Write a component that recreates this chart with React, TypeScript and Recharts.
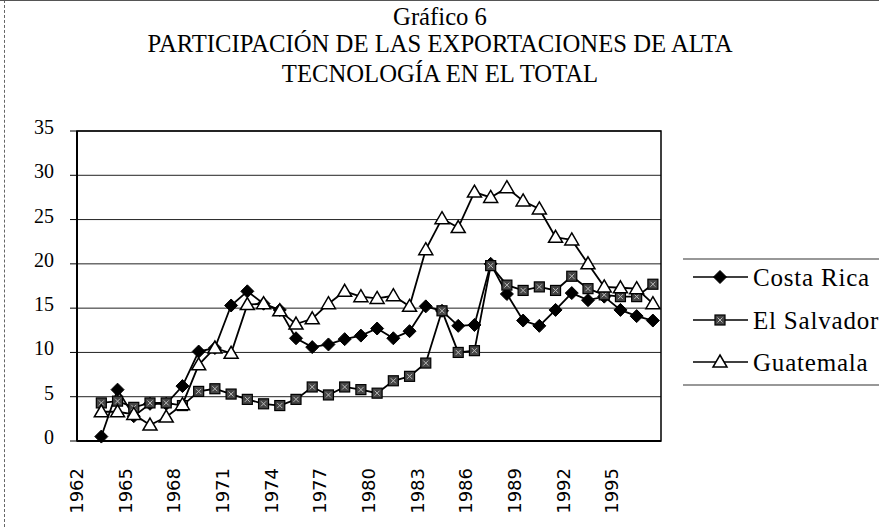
import { LineChart, Line, XAxis, YAxis, CartesianGrid, ReferenceArea } from "recharts";

const YEARS = [
  1963, 1964, 1965, 1966, 1967, 1968, 1969, 1970, 1971, 1972, 1973, 1974,
  1975, 1976, 1977, 1978, 1979, 1980, 1981, 1982, 1983, 1984, 1985, 1986,
  1987, 1988, 1989, 1990, 1991, 1992, 1993, 1994, 1995, 1996, 1997,
];

const COSTA_RICA = [
  0.5, 5.8, 2.8, 4.2, 4.2, 6.2, 10.1, 10.5, 15.3, 16.9, 15.5, 14.8,
  11.6, 10.6, 10.9, 11.5, 11.9, 12.7, 11.6, 12.4, 15.2, 14.7, 13.0, 13.1,
  20.0, 16.6, 13.6, 13.0, 14.8, 16.7, 15.9, 16.3, 14.8, 14.1, 13.6,
];

const EL_SALVADOR = [
  4.3, 4.5, 3.8, 4.3, 4.3, 4.0, 5.6, 5.9, 5.3, 4.7, 4.2, 4.0,
  4.7, 6.1, 5.2, 6.1, 5.8, 5.4, 6.8, 7.3, 8.8, 14.7, 10.0, 10.2,
  19.8, 17.6, 17.0, 17.4, 17.0, 18.6, 17.2, 16.5, 16.3, 16.3, 17.7,
];

const GUATEMALA = [
  3.3, 3.3, 3.0, 1.8, 2.7, 4.1, 8.6, 10.5, 9.9, 15.4, 15.5, 14.7,
  13.2, 13.8, 15.5, 16.9, 16.3, 16.1, 16.4, 15.2, 21.6, 25.1, 24.1, 28.1,
  27.5, 28.6, 27.1, 26.2, 23.0, 22.7, 20.0, 17.4, 17.3, 17.2, 15.5,
];

const X_TICKS = [1962, 1965, 1968, 1971, 1974, 1977, 1980, 1983, 1986, 1989, 1992, 1995];
const Y_TICKS = [0, 5, 10, 15, 20, 25, 30, 35];

const TITLE_LINES = [
  "Gráfico 6",
  "PARTICIPACIÓN DE LAS EXPORTACIONES DE ALTA",
  "TECNOLOGÍA EN EL TOTAL",
];
const TITLE_TOPS = [4, 31, 61];

const SERIES_NAMES = ["Costa Rica", "El Salvador", "Guatemala"];

const data = YEARS.map((year, i) => ({
  year,
  costaRica: COSTA_RICA[i],
  elSalvador: EL_SALVADOR[i],
  guatemala: GUATEMALA[i],
}));

const SERIF = "'Liberation Serif', 'Times New Roman', serif";

function Diamond({ cx, cy }: { cx: number; cy: number }) {
  const r = 6.5;
  return (
    <path
      d={`M${cx},${cy - r} L${cx + r},${cy} L${cx},${cy + r} L${cx - r},${cy} Z`}
      fill="#000"
      stroke="#000"
    />
  );
}

function Square({ cx, cy }: { cx: number; cy: number }) {
  const h = 5;
  return (
    <g>
      <rect x={cx - h} y={cy - h} width={h * 2} height={h * 2} fill="#444" stroke="#000" strokeWidth={1.2} />
      <path
        d={`M${cx - 2.5},${cy - 2.5} L${cx + 2.5},${cy + 2.5} M${cx + 2.5},${cy - 2.5} L${cx - 2.5},${cy + 2.5}`}
        stroke="#bbb"
        strokeWidth={1}
      />
    </g>
  );
}

function Triangle({ cx, cy }: { cx: number; cy: number }) {
  return (
    <path
      d={`M${cx},${cy - 7} L${cx + 7},${cy + 5} L${cx - 7},${cy + 5} Z`}
      fill="#fff"
      stroke="#000"
      strokeWidth={1.5}
    />
  );
}

const MARKERS = [Diamond, Square, Triangle];

function makeDot(Marker: typeof Diamond) {
  return (props: any) => {
    const { cx, cy, index } = props;
    if (cx == null || cy == null) return <g key={index} />;
    return (
      <g key={index}>
        <Marker cx={cx} cy={cy} />
      </g>
    );
  };
}

function XTick({ x, y, payload }: any) {
  return (
    <g transform={`translate(${x - 2},${y + 19}) rotate(-90)`}>
      <text textAnchor="end" fontFamily="'DejaVu Sans', sans-serif" fontSize={18} fill="#000">
        {payload.value}
      </text>
    </g>
  );
}

function YTick({ x, y, payload }: any) {
  return (
    <text x={x} y={y - 4} textAnchor="end" dominantBaseline="central" fontFamily={SERIF} fontSize={20} fill="#000">
      {payload.value}
    </text>
  );
}

function LegendBox() {
  const rows = [18, 61, 103];
  return (
    <svg width={196} height={128} style={{ position: "absolute", left: 683, top: 258 }}>
      <line x1={0} y1={1} x2={196} y2={1} stroke="#333" strokeWidth={1.2} />
      <line x1={0} y1={127} x2={196} y2={127} stroke="#333" strokeWidth={1.2} />
      {SERIES_NAMES.map((name, i) => {
        const Marker = MARKERS[i];
        const cy = rows[i] + 1;
        return (
          <g key={name}>
            <line x1={10} y1={cy} x2={65} y2={cy} stroke="#000" strokeWidth={1.5} />
            <Marker cx={37} cy={cy} />
            <text
              x={70}
              y={cy}
              dominantBaseline="central"
              fontFamily={SERIF}
              fontSize={25}
              letterSpacing={0.8}
              fill="#000"
            >
              {name}
            </text>
          </g>
        );
      })}
    </svg>
  );
}

export default function App() {
  const keys = ["costaRica", "elSalvador", "guatemala"];
  return (
    <div style={{ position: "absolute", left: 0, top: 0, width: 879, height: 527, background: "#fff" }}>
      <div style={{ position: "absolute", left: 4, top: 0, height: 527, borderLeft: "1px dashed #666" }} />
      <div style={{ position: "absolute", left: 0, top: 0, width: 879, borderTop: "1px solid #555" }} />
      {TITLE_LINES.map((line, i) => (
        <div
          key={line}
          style={{
            position: "absolute",
            left: 0,
            width: 880,
            top: TITLE_TOPS[i],
            textAlign: "center",
            fontFamily: SERIF,
            fontSize: 24.7,
            lineHeight: "25px",
            color: "#000",
            whiteSpace: "nowrap",
          }}
        >
          {line}
        </div>
      ))}
      <div style={{ position: "absolute", left: 0, top: 0 }}>
        <LineChart width={879} height={527} data={data} margin={{ top: 131, right: 218, bottom: 0, left: 17 }}>
          <CartesianGrid horizontal vertical={false} stroke="#222" strokeWidth={1} />
          <XAxis
            dataKey="year"
            type="number"
            domain={[1961.5, 1997.5]}
            ticks={X_TICKS}
            interval={0}
            height={86}
            tickLine={false}
            axisLine={{ stroke: "#000", strokeWidth: 2 }}
            tick={<XTick />}
          />
          <YAxis
            type="number"
            domain={[0, 35]}
            ticks={Y_TICKS}
            width={60}
            tickSize={7}
            tickMargin={16}
            tickLine={{ stroke: "#000" }}
            axisLine={{ stroke: "#000", strokeWidth: 2 }}
            tick={<YTick />}
          />
          <ReferenceArea x1={1961.5} x2={1997.5} y1={0} y2={35} fill="none" stroke="#000" strokeWidth={1.5} />
          {keys.map((k, i) => (
            <Line
              key={k}
              dataKey={k}
              name={SERIES_NAMES[i]}
              stroke="#000"
              strokeWidth={1.8}
              dot={makeDot(MARKERS[i])}
              activeDot={false}
              isAnimationActive={false}
            />
          ))}
        </LineChart>
      </div>
      <LegendBox />
    </div>
  );
}
